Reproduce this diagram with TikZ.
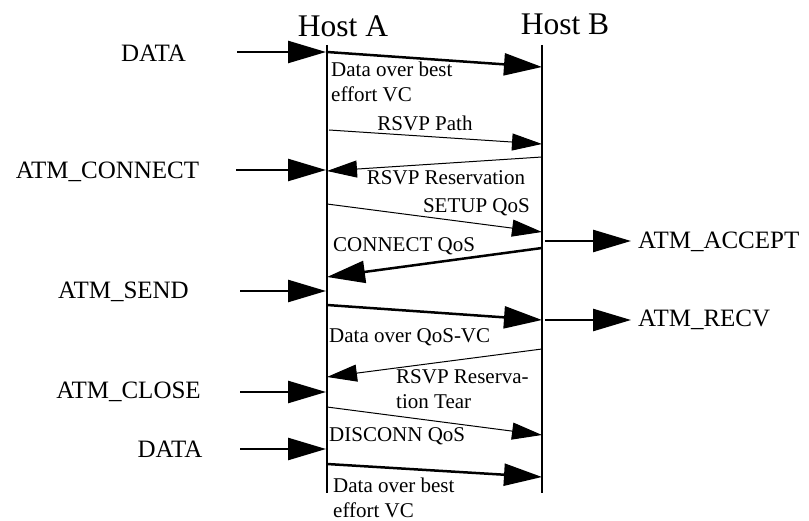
\documentclass[tikz,border=0pt]{standalone}
\usepackage{fontspec}
\setmainfont{Liberation Serif}
\usetikzlibrary{arrows.meta}

\begin{document}
\begin{tikzpicture}[x=1pt, y=-1pt,
  lifeline/.style={line width=2.5pt},
  thinmsg/.style={line width=1pt, -{Triangle[length=30pt, width=17pt]}},
  thickmsg/.style={line width=2.5pt, -{Triangle[length=38pt, width=22pt]}},
  hostlbl/.style={inner sep=0pt, anchor=base, font=\fontsize{31.5}{36}\selectfont},
  primlbl/.style={inner sep=0pt, font=\fontsize{25}{30}\selectfont},
  msglbl/.style={inner sep=0pt, align=left, font=\fontsize{21}{25}\selectfont}]

\useasboundingbox (0,0) rectangle (809,521);

% hosts and lifelines
\node[hostlbl] (hosta) at (343,37) {Host A};
\node[hostlbl] (hostb) at (565,35) {Host B};

\coordinate (atop) at (327,45);
\coordinate (abot) at (327,493);
\coordinate (btop) at (542,45);
\coordinate (bbot) at (542,493);
\draw[lifeline] (atop) -- (abot);
\draw[lifeline] (btop) -- (bbot);

% points on the lifelines
\coordinate (a1) at (327,52);   \coordinate (b1) at (542,67);
\coordinate (a2) at (329,130);  \coordinate (b2) at (542,144);
\coordinate (b3) at (542,157);  \coordinate (a3) at (327,171);
\coordinate (a4) at (327,204);  \coordinate (b4) at (542,232);
\coordinate (b5) at (542,248);  \coordinate (a5) at (327,277);
\coordinate (a6) at (327,305);  \coordinate (b6) at (542,320);
\coordinate (b7) at (542,349);  \coordinate (a7) at (327,377);
\coordinate (a8) at (327,407);  \coordinate (b8) at (542,435);
\coordinate (a9) at (327,464);  \coordinate (b9) at (542,477);

% messages between the hosts
\draw[thickmsg] (a1) -- (b1);
\draw[thinmsg] (a2) -- (b2);
\draw[thinmsg] (b3) -- (a3);
\draw[thinmsg] (a4) -- (b4);
\draw[thickmsg] (b5) -- (a5);
\draw[thickmsg] (a6) -- (b6);
\draw[thinmsg] (b7) -- (a7);
\draw[thinmsg] (a8) -- (b8);
\draw[thickmsg] (a9) -- (b9);

% two line labels sit on the baseline of their last line
\node[msglbl, anchor=base west] (lbldata1) at (331,102) {Data over best\\effort VC};
\node[msglbl, anchor=base] (lblpath) at (425,131) {RSVP Path};
\node[msglbl, anchor=base] (lblresv) at (446,185) {RSVP Reservation};
\node[msglbl, anchor=base east] (lblsetup) at (530,213) {SETUP QoS};
\node[msglbl, anchor=base west] (lblconn) at (333,252) {CONNECT QoS};
\node[msglbl, anchor=base west] (lblqos) at (329,343) {Data over QoS-VC};
\node[msglbl, anchor=base west] (lbltear) at (396,409) {RSVP Reserva-\\tion Tear};
\node[msglbl, anchor=base west] (lbldisc) at (329,442) {DISCONN QoS};
\node[msglbl, anchor=base west] (lbldata2) at (333,517) {Data over best\\effort VC};

% primitives at host A
\node[primlbl, anchor=base] (pdata1) at (153.5,62) {DATA};
\node[primlbl, anchor=base] (pconn) at (107.5,179) {ATM\_CONNECT};
\node[primlbl, anchor=base] (psend) at (123.5,299) {ATM\_SEND};
\node[primlbl, anchor=base] (pclose) at (128.5,399) {ATM\_CLOSE};
\node[primlbl, anchor=base] (pdata2) at (170,457) {DATA};

\coordinate (in1) at (237,52);   \coordinate (e1) at (326,52);
\coordinate (in2) at (236,170);  \coordinate (e2) at (326,170);
\coordinate (in3) at (240,291);  \coordinate (e3) at (326,291);
\coordinate (in4) at (240,392);  \coordinate (e4) at (326,392);
\coordinate (in5) at (240,449);  \coordinate (e5) at (326,449);

\draw[thickmsg] (in1) -- (e1);
\draw[thickmsg] (in2) -- (e2);
\draw[thickmsg] (in3) -- (e3);
\draw[thickmsg] (in4) -- (e4);
\draw[thickmsg] (in5) -- (e5);

% primitives at host B
\coordinate (s1) at (545,241);  \coordinate (out1) at (631,241);
\coordinate (s2) at (545,320);  \coordinate (out2) at (631,320);
\draw[thickmsg] (s1) -- (out1);
\draw[thickmsg] (s2) -- (out2);
\node[primlbl, anchor=base west] (paccept) at (638,249) {ATM\_ACCEPT};
\node[primlbl, anchor=base west] (precv) at (638,327) {ATM\_RECV};

\end{tikzpicture}
\end{document}
